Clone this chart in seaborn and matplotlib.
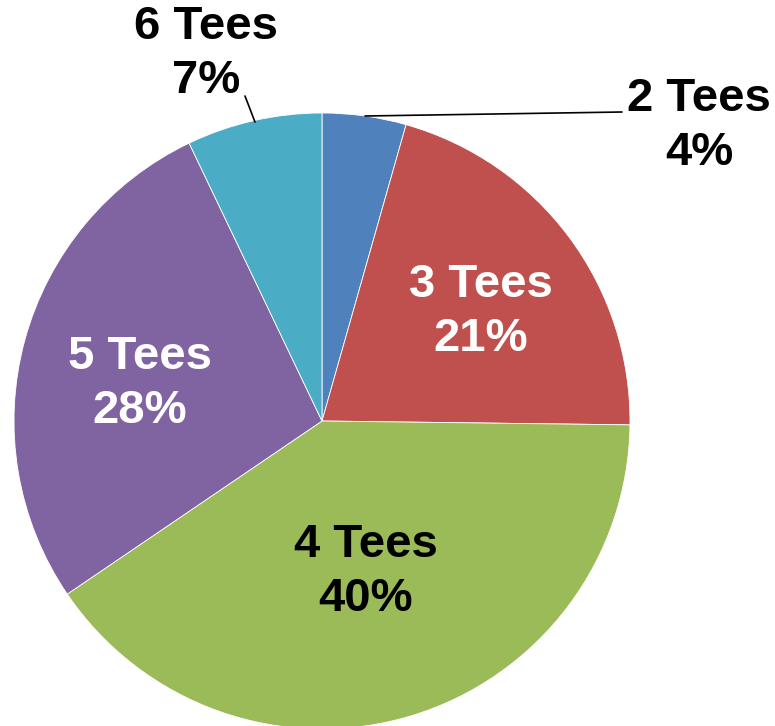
import matplotlib
matplotlib.use("Agg")
import matplotlib.pyplot as plt
import seaborn as sns

categories = ["2 Tees", "3 Tees", "4 Tees", "5 Tees", "6 Tees"]
values = [4.4, 20.8, 40.3, 27.4, 7.1]
pct_labels = ["4%", "21%", "40%", "28%", "7%"]
colors = ["#4F81BD", "#C0504D", "#9BBB59", "#8064A2", "#4BACC6"]

sns.set_theme(style="white")
plt.rcParams["font.family"] = ["Liberation Sans", "DejaVu Sans"]

fig = plt.figure(figsize=(7.75, 7.26), dpi=100)
ax = fig.add_axes([0, 0, 1, 1])
ax.axis("off")

wedges, _ = ax.pie(values, colors=colors, startangle=90, counterclock=False,
                   radius=1.0, center=(0, 0),
                   wedgeprops=dict(edgecolor="white", linewidth=0.6))

S = 308.0
cx, cy = 322.0, 421.0
ax.set_xlim(-cx / S, (775 - cx) / S)
ax.set_ylim(-(726 - cy) / S, cy / S)
ax.set_aspect("auto")

def px(x, y):
    return ((x - cx) / S, (cy - y) / S)

label_pos = [(699, 126), (481, 312), (366, 572), (140, 384), (206, 54)]
text_colors = ["black", "white", "black", "white", "black"]
for cat, pct, pos, tc in zip(categories, pct_labels, label_pos, text_colors):
    x, y = px(*pos)
    ax.text(x, y, f"{cat}\n{pct}", ha="center", va="center", fontsize=34,
            fontweight="bold", color=tc, linespacing=1.3)

# leader lines
x1, y1 = px(365, 116)
x2, y2 = px(622, 112)
ax.plot([x1, x2], [y1, y2], color="black", lw=1.2)
x1, y1 = px(255, 122)
x2, y2 = px(245, 96)
ax.plot([x1, x2], [y1, y2], color="black", lw=1.2)

fig.savefig("out.png", dpi=100)
